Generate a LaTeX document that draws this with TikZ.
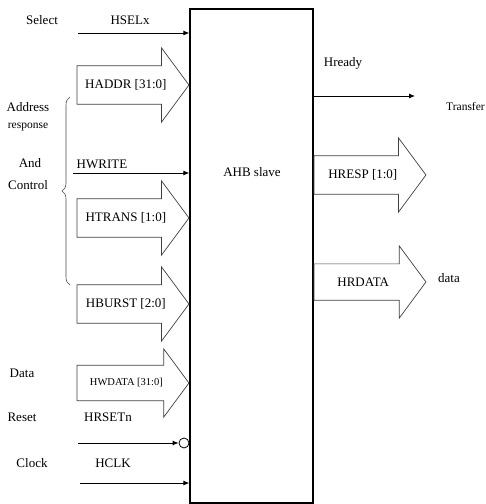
\documentclass[tikz,border=0pt]{standalone}
\usepackage{fontspec}
\setmainfont{Liberation Serif}
\usetikzlibrary{shapes.arrows, arrows.meta, decorations.pathreplacing}

\begin{document}
\begin{tikzpicture}[x=1pt, y=-1pt,
  lbl/.style={font=\fontsize{13}{15}\selectfont, inner sep=0pt},
  small/.style={font=\fontsize{11.5}{13}\selectfont, inner sep=0pt},
  bus/.style={single arrow, draw=black!75, line width=0.7pt, minimum height=112pt, inner xsep=0pt, inner ysep=13.5pt, single arrow head extend=18pt, single arrow tip angle=107, font=\fontsize{13}{15}\selectfont},
  sig/.style={-{Latex[length=6pt,width=5pt]}, line width=0.9pt}]
\useasboundingbox (0,0) rectangle (486,504);
\node[draw, line width=1.2pt, minimum width=123pt, minimum height=494pt, inner sep=0pt] (slave) at (251.5,256) {};
\node[lbl] (title) at (252,172) {AHB slave};

\node[lbl] (select) at (42,20) {Select};
\node[lbl] (hsel) at (130,20) {HSELx};
\coordinate (hselin) at (78,33);
\draw[sig] (hselin) -- (hselin -| slave.west);

\node[bus, anchor=tip] (haddr) at (slave.west |- 0,85) {HADDR [31:0]};
\node[lbl] (hwrite) at (102,164) {HWRITE};
\coordinate (hwritein) at (73,173);
\draw[sig] (hwritein) -- (hwritein -| slave.west);
\node[bus, anchor=tip] (htrans) at (slave.west |- 0,218) {HTRANS [1:0]};
\node[bus, anchor=tip] (hburst) at (slave.west |- 0,304) {HBURST [2:0]};

\node[lbl] (addr) at (28,107) {Address};
\node[small] (resp) at (28,127) {response};
\node[lbl] (and) at (30,163) {And};
\node[lbl] (ctrl) at (28,185) {Control};
\draw[draw=black!70, line width=0.6pt, decorate, decoration={brace, amplitude=8pt}] (70,285) -- (70,97);

\node[lbl] (data) at (22,373) {Data};
\node[bus, anchor=tip, inner ysep=13pt, single arrow head extend=16.5pt, font=\fontsize{10.5}{12}\selectfont] (hwdata) at (slave.west |- 0,383) {HWDATA [31:0]};

\node[lbl] (reset) at (22,417) {Reset};
\node[lbl] (hrst) at (108,417) {HRSETn};
\node[circle, draw, line width=0.8pt, minimum size=10pt, inner sep=0pt, anchor=east] (nrst) at (slave.west |- 0,443) {};
\coordinate (hrstin) at (78,443);
\draw[sig] (hrstin) -- (nrst.west);

\node[lbl] (clock) at (32,463) {Clock};
\node[lbl] (hclk) at (113,463) {HCLK};
\coordinate (hclkin) at (80,483);
\draw[sig] (hclkin) -- (hclkin -| slave.west);

\node[lbl] (hready) at (343,63) {Hready};
\coordinate (hreadyout) at (415,96);
\draw[sig] (hreadyout -| slave.east) -- (hreadyout);
\node[small, anchor=west] (transfer) at (446,107) {Transfer};

\node[bus, anchor=tail] (hresp) at (slave.east |- 0,175) {HRESP [1:0]};
\node[bus, anchor=tail] (hrdata) at (slave.east |- 0,282) {HRDATA};
\node[lbl] (dataout) at (449,278) {data};
\end{tikzpicture}
\end{document}
